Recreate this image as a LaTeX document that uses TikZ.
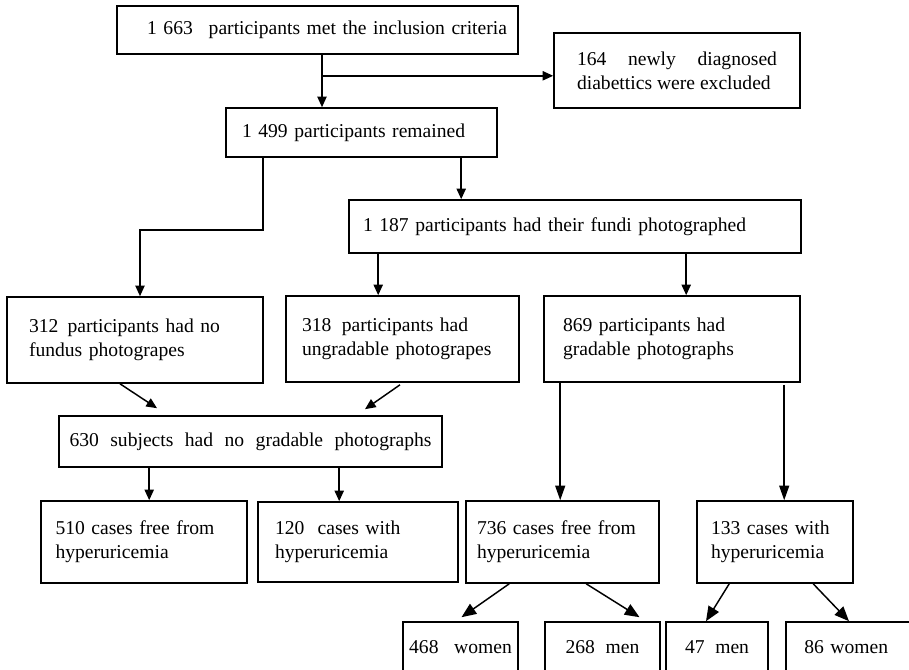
\documentclass[tikz,border=0pt]{standalone}
\usepackage{fontspec}
\setmainfont{Liberation Serif}
\usetikzlibrary{arrows.meta,calc}

\tikzset{every picture/.style={line width=0.75pt}}
\tikzset{
  flowbox/.style={draw, rectangle, inner sep=0pt, line width=1.2pt, font=\fontsize{14.7pt}{18pt}\selectfont, align=left},
  flowarrow/.style={line width=1.1pt, -{Triangle[length=8pt,width=7pt]}},
  longarrow/.style={line width=1.1pt, -{Triangle[length=11pt,width=7.5pt]}},
  bigarrow/.style={line width=1.1pt, -{Triangle[length=11pt,width=9pt]}}
}

\begin{document}
\begin{tikzpicture}[x=0.75pt,y=0.75pt,yscale=-1,xscale=1]
	\useasboundingbox (0,0) rectangle (909,670);

	%Shape: Rectangle [id:n1663]
	\node[flowbox, minimum width=300.75pt, minimum height=36pt, text width=284.25pt, align=right] (n1663) at (317.5,30) {1 663\hspace{7pt} participants met the inclusion criteria};
	%Shape: Rectangle [id:n164]
	\node[flowbox, minimum width=184.5pt, minimum height=56.25pt] (n164) at (677,70.5) {\makebox[150pt][s]{164 newly diagnosed}\\diabettics were excluded};
	%Shape: Rectangle [id:n1499]
	\node[flowbox, minimum width=203.25pt, minimum height=36.75pt, text width=179.25pt] (n1499) at (361.5,132.5) {1 499 participants remained};
	%Shape: Rectangle [id:n1187]
	\node[flowbox, minimum width=339pt, minimum height=39.75pt, text width=318pt] (n1187) at (575,226.5) {1 187 participants had their fundi photographed};
	%Shape: Rectangle [id:n312]
	\node[flowbox, minimum width=192pt, minimum height=64.5pt, text width=159pt] (n312) at (135,340) {312\hspace{2pt} participants had no\\fundus photograpes};
	%Shape: Rectangle [id:n318]
	\node[flowbox, minimum width=174.75pt, minimum height=64.5pt, text width=150.75pt] (n318) at (402.5,339) {318\hspace{3pt} participants had\\ungradable photograpes};
	%Shape: Rectangle [id:n869]
	\node[flowbox, minimum width=192pt, minimum height=64.5pt, text width=163.5pt] (n869) at (672,339) {\makebox[129pt][s]{869 participants had}\\gradable photographs};
	%Shape: Rectangle [id:n630]
	\node[flowbox, minimum width=287.25pt, minimum height=38.25pt] (n630) at (250.5,441.5) {\makebox[271.5pt][s]{630 subjects had no gradable photographs}};
	%Shape: Rectangle [id:n510]
	\node[flowbox, minimum width=154.5pt, minimum height=61.5pt, text width=132.75pt] (n510) at (144,542) {\makebox[132.75pt][s]{510 cases free from}\\hyperuricemia};
	%Shape: Rectangle [id:n120]
	\node[flowbox, minimum width=150pt, minimum height=60pt, text width=124.5pt] (n120) at (358,542) {120\hspace{5pt} cases with\\hyperuricemia};
	%Shape: Rectangle [id:n736]
	\node[flowbox, minimum width=144.75pt, minimum height=61.5pt, text width=128.25pt] (n736) at (562.5,542) {\makebox[128.25pt][s]{736 cases free from}\\hyperuricemia};
	%Shape: Rectangle [id:n133]
	\node[flowbox, minimum width=117pt, minimum height=61.5pt, text width=96pt] (n133) at (775,542) {\makebox[96pt][s]{133 cases with}\\hyperuricemia};
	%Shape: Rectangle [id:n468]
	\node[flowbox, minimum width=86.25pt, minimum height=37.5pt] (n468) at (460.5,647) {\makebox[77pt][s]{468 women}};
	%Shape: Rectangle [id:n268]
	\node[flowbox, minimum width=86.25pt, minimum height=37.5pt] (n268) at (602.5,647) {\makebox[55.5pt][s]{268 men}};
	%Shape: Rectangle [id:n47]
	\node[flowbox, minimum width=76.5pt, minimum height=37.5pt] (n47) at (717,647) {\makebox[48pt][s]{47 men}};
	%Shape: Rectangle [id:n86]
	\node[flowbox, minimum width=97.5pt, minimum height=37.5pt, text width=70pt] (n86) at (851,647) {86 women};

	%Straight Lines [id:1663-1499-164]
	\coordinate (a0) at ($(n1663.south)+(4.5,0)$);
	\coordinate (a1) at ($(a0)+(0,21)$);
	\draw[flowarrow] (a0) -- (a0 |- n1499.north);
	\draw[flowarrow] (a1) -- (a1 -| n164.west);
	%Straight Lines [id:1499-312]
	\coordinate (b0) at ($(n1499.south west)+(38,0)$);
	\coordinate (b1) at ($(n312.north)+(5,0)$);
	\draw[flowarrow] (b0) -- ++(0,72) -| (b1);
	%Straight Lines [id:1499-1187]
	\coordinate (c0) at ($(n1499.south west)+(236,0)$);
	\draw[flowarrow] (c0) -- (c0 |- n1187.north);
	%Straight Lines [id:1187-318-869]
	\coordinate (d0) at ($(n1187.south west)+(30,0)$);
	\coordinate (d1) at ($(n1187.south west)+(338,0)$);
	\draw[flowarrow] (d0) -- (d0 |- n318.north);
	\draw[flowarrow] (d1) -- (d1 |- n869.north);
	%Straight Lines [id:312-318-630]
	\draw[flowarrow] ($(n312.south)+(-15,0)$) -- ($(n630.north)+(-93.5,-7)$);
	\draw[flowarrow] ($(n318.south)+(-2.5,2)$) -- ($(n630.north)+(114.5,-6)$);
	%Straight Lines [id:630-510-120]
	\coordinate (e0) at ($(n630.south west)+(91,0)$);
	\coordinate (e1) at ($(n630.south west)+(281,0)$);
	\draw[flowarrow] (e0) -- (e0 |- n510.north);
	\draw[flowarrow] (e1) -- (e1 |- n120.north);
	%Straight Lines [id:869-736-133]
	\coordinate (f0) at ($(n869.south west)+(17,0)$);
	\coordinate (f1) at ($(n869.south west)+(241,2)$);
	\draw[longarrow] (f0) -- (f0 |- n736.north);
	\draw[longarrow] (f1) -- (f1 |- n133.north);
	%Straight Lines [id:736-468-268]
	\draw[bigarrow] ($(n736.south west)+(44,0)$) -- ($(n468.north)+(1,-4)$);
	\draw[bigarrow] ($(n736.south west)+(121,0)$) -- ($(n268.north)+(37,-4)$);
	%Straight Lines [id:133-47-86]
	\draw[bigarrow] ($(n133.south west)+(33,0)$) -- ($(n47.north)+(-11,0)$);
	\draw[bigarrow] ($(n133.south west)+(117,0)$) -- ($(n86.north)+(-2,0)$);

\end{tikzpicture}
\end{document}
